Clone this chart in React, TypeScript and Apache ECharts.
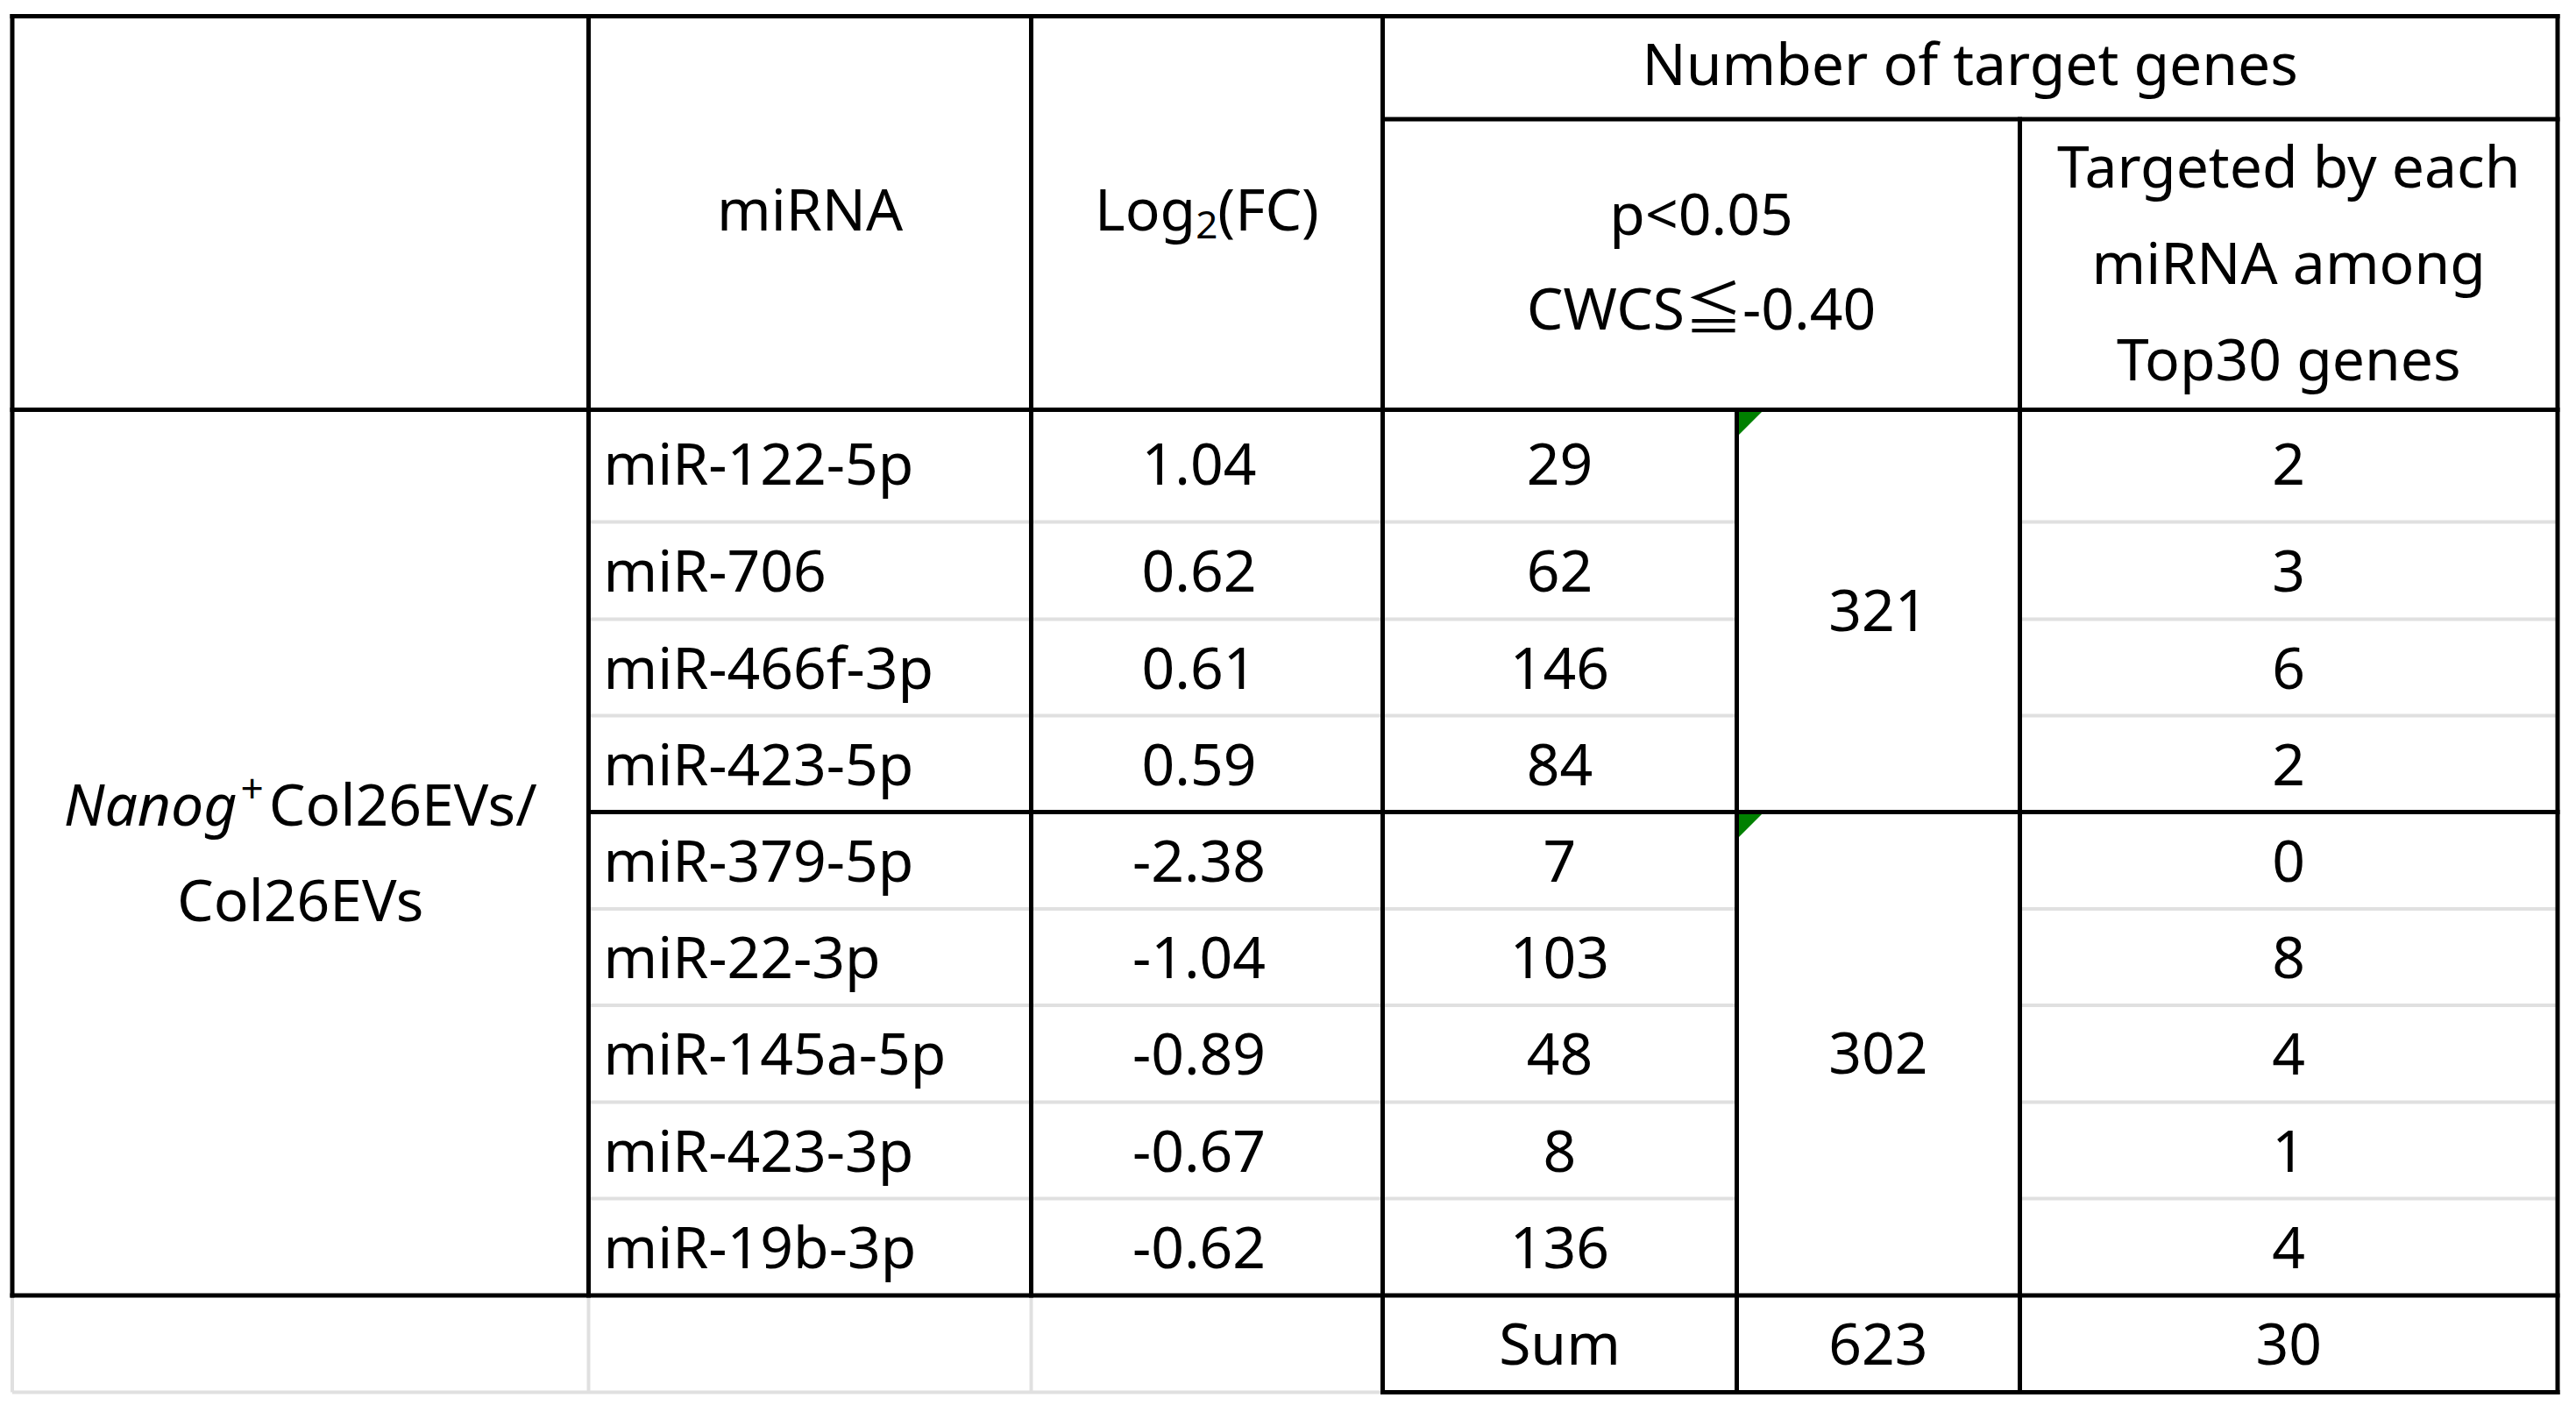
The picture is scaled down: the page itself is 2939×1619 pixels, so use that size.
import React, { useEffect, useRef } from 'react';
import * as echarts from 'echarts';

const miRNAs = ['miR-122-5p', 'miR-706', 'miR-466f-3p', 'miR-423-5p', 'miR-379-5p', 'miR-22-3p', 'miR-145a-5p', 'miR-423-3p', 'miR-19b-3p'];
const log2FC = [1.04, 0.62, 0.61, 0.59, -2.38, -1.04, -0.89, -0.67, -0.62];
const targetGenes = [29, 62, 146, 84, 7, 103, 48, 8, 136];
const groupSizes = [4, 5];
const groupTotals = [321, 302];
const top30Targeted = [2, 3, 6, 2, 0, 8, 4, 1, 4];
const sumLabel = 'Sum';
const sumTargetGenes = 623;
const sumTop30 = 30;
const headerMiRNA = 'miRNA';
const headerLog = '{n|Log}{sub|2}{n|(FC)}';
const headerNumber = 'Number of target genes';
const headerCriteria = 'p<0.05\nCWCS≦-0.40';
const headerTop30 = 'Targeted by each\nmiRNA among\nTop30 genes';
const groupLabel = '{it|Nanog}{sup|+}{n|Col26EVs/}\n{n|Col26EVs}';

// ---------- layout ----------
const W = 2939;
const H = 1619;
const COL_X = [14, 671.5, 1176.5, 1577.5, 1981.5, 2304.5, 2918];
const HEAD_Y = [18.5, 136, 467.5];
const ROW_Y = [467.5, 595.5, 706.5, 816.5, 926.5, 1037, 1147, 1257.5, 1367.5, 1478, 1588.5];
const FONT = '"Noto Sans", "Noto Sans CJK JP", sans-serif';
const FS = 66;
const LOG_COL_X = 1368;
const MIRNA_PAD = 17;
const HEAD_DY = -6;
const FIRST_ROW_DY = -5;
const ROW_DY = -2;

const mid = (a: number, b: number) => (a + b) / 2;

type Cell = { x: number; y: number; text: string; align: string; lineHeight?: number; rich?: any };
type Rule = { x1: number; y1: number; x2: number; y2: number; black: boolean };

function buildCells(): Cell[] {
  const cells: Cell[] = [];
  const hMid = mid(HEAD_Y[0], HEAD_Y[2]) + HEAD_DY;
  cells.push({ x: mid(COL_X[1], COL_X[2]), y: hMid, text: headerMiRNA, align: 'center' });
  cells.push({
    x: mid(COL_X[2], COL_X[3]), y: hMid, text: headerLog, align: 'center',
    rich: {
      n: { fontSize: FS, fontFamily: FONT, fill: '#000' },
      sub: { fontSize: 44, fontFamily: FONT, fill: '#000', padding: [36, 0, 0, 0] },
    },
  });
  cells.push({ x: mid(COL_X[3], COL_X[6]), y: mid(HEAD_Y[0], HEAD_Y[1]) + HEAD_DY, text: headerNumber, align: 'center' });
  cells.push({ x: mid(COL_X[3], COL_X[5]), y: mid(HEAD_Y[1], HEAD_Y[2]) + HEAD_DY, text: headerCriteria, align: 'center', lineHeight: 108 });
  cells.push({ x: mid(COL_X[5], COL_X[6]), y: mid(HEAD_Y[1], HEAD_Y[2]) - 4, text: headerTop30, align: 'center', lineHeight: 110 });
  cells.push({
    x: mid(COL_X[0], COL_X[1]), y: mid(ROW_Y[0], ROW_Y[9]) - 2, text: groupLabel, align: 'center',
    rich: {
      it: { fontSize: FS, fontFamily: FONT, fontStyle: 'italic', fill: '#000', lineHeight: 109 },
      sup: { fontSize: 46, fontFamily: FONT, fill: '#000', padding: [0, 6, 36, 4], lineHeight: 109 },
      n: { fontSize: FS, fontFamily: FONT, fill: '#000', lineHeight: 109 },
    },
  });
  miRNAs.forEach((m, i) => {
    const y = mid(ROW_Y[i], ROW_Y[i + 1]) + (i === 0 ? FIRST_ROW_DY : ROW_DY);
    cells.push({ x: COL_X[1] + MIRNA_PAD, y, text: m, align: 'left' });
    cells.push({ x: LOG_COL_X, y, text: log2FC[i].toFixed(2), align: 'center' });
    cells.push({ x: mid(COL_X[3], COL_X[4]), y, text: String(targetGenes[i]), align: 'center' });
    cells.push({ x: mid(COL_X[5], COL_X[6]), y, text: String(top30Targeted[i]), align: 'center' });
  });
  let start = 0;
  groupSizes.forEach((n, g) => {
    cells.push({ x: mid(COL_X[4], COL_X[5]), y: mid(ROW_Y[start], ROW_Y[start + n]) - 3, text: String(groupTotals[g]), align: 'center' });
    start += n;
  });
  const sy = mid(ROW_Y[9], ROW_Y[10]) + ROW_DY;
  cells.push({ x: mid(COL_X[3], COL_X[4]), y: sy, text: sumLabel, align: 'center' });
  cells.push({ x: mid(COL_X[4], COL_X[5]), y: sy, text: String(sumTargetGenes), align: 'center' });
  cells.push({ x: mid(COL_X[5], COL_X[6]), y: sy, text: String(sumTop30), align: 'center' });
  return cells;
}

function buildRules(): Rule[] {
  const r: Rule[] = [];
  const h = (y: number, x1: number, x2: number, black: boolean) => r.push({ x1, y1: y, x2, y2: y, black });
  const v = (x: number, y1: number, y2: number, black: boolean) => r.push({ x1: x, y1, x2: x, y2, black });
  // light grid lines
  [1, 2, 3, 5, 6, 7, 8].forEach((ri) => {
    h(ROW_Y[ri], COL_X[1], COL_X[4], false);
    h(ROW_Y[ri], COL_X[5], COL_X[6], false);
  });
  h(ROW_Y[10], COL_X[0], COL_X[3], false);
  [0, 1, 2].forEach((ci) => v(COL_X[ci], ROW_Y[9], ROW_Y[10], false));
  // black borders
  h(HEAD_Y[0], COL_X[0], COL_X[6], true);
  h(HEAD_Y[1], COL_X[3], COL_X[6], true);
  h(HEAD_Y[2], COL_X[0], COL_X[6], true);
  h(ROW_Y[4], COL_X[1], COL_X[6], true);
  h(ROW_Y[9], COL_X[0], COL_X[6], true);
  h(ROW_Y[10], COL_X[3], COL_X[6], true);
  v(COL_X[0], HEAD_Y[0], ROW_Y[9], true);
  v(COL_X[1], HEAD_Y[0], ROW_Y[9], true);
  v(COL_X[2], HEAD_Y[0], ROW_Y[9], true);
  v(COL_X[3], HEAD_Y[0], ROW_Y[10], true);
  v(COL_X[4], ROW_Y[0], ROW_Y[10], true);
  v(COL_X[5], HEAD_Y[1], ROW_Y[10], true);
  v(COL_X[6], HEAD_Y[0], ROW_Y[10], true);
  return r;
}

export default function App() {
  const ref = useRef<HTMLDivElement>(null);
  useEffect(() => {
    document.body.style.margin = '0';
    document.body.style.overflow = 'hidden';
    if (!ref.current) return;
    const chart = echarts.init(ref.current, undefined, { renderer: 'svg' });
    const cells = buildCells();
    const rules = buildRules();
    const flags = [
      [COL_X[4], ROW_Y[0]],
      [COL_X[4], ROW_Y[4]],
    ];
    chart.setOption({
      animation: false,
      backgroundColor: '#ffffff',
      grid: { left: 0, right: 0, top: 0, bottom: 0 },
      xAxis: { type: 'value', min: 0, max: W, show: false },
      yAxis: { type: 'value', min: 0, max: H, inverse: true, show: false },
      tooltip: { show: false },
      series: [
        {
          type: 'custom',
          name: 'rules',
          silent: true,
          clip: false,
          data: rules.map((r) => [r.x1, r.y1, r.x2, r.y2, r.black ? 1 : 0]),
          renderItem: (params: any, api: any) => {
            const p1 = api.coord([api.value(0), api.value(1)]);
            const p2 = api.coord([api.value(2), api.value(3)]);
            const black = api.value(4) === 1;
            return {
              type: 'line',
              z2: black ? 10 : 1,
              shape: { x1: p1[0], y1: p1[1], x2: p2[0], y2: p2[1] },
              style: { stroke: black ? '#000000' : '#e0e0e0', lineWidth: black ? 5 : 4, lineCap: black ? 'square' : 'butt' },
            };
          },
        },
        {
          type: 'custom',
          name: 'flags',
          silent: true,
          clip: false,
          z: 3,
          data: flags,
          renderItem: (params: any, api: any) => {
            const p = api.coord([api.value(0), api.value(1)]);
            const x0 = p[0] + 2.5;
            const y0 = p[1] + 2.5;
            return {
              type: 'polygon',
              shape: { points: [[x0, y0], [x0 + 26, y0], [x0, y0 + 26]] },
              style: { fill: '#008000' },
            };
          },
        },
        {
          type: 'custom',
          name: 'cells',
          silent: true,
          clip: false,
          z: 4,
          data: cells.map((c) => [c.x, c.y]),
          renderItem: (params: any, api: any) => {
            const c = cells[params.dataIndex];
            const p = api.coord([api.value(0), api.value(1)]);
            const style: any = {
              text: c.text,
              x: p[0],
              y: p[1],
              fill: '#000000',
              fontSize: FS,
              fontFamily: FONT,
              align: c.align,
              verticalAlign: 'middle',
            };
            if (c.lineHeight) style.lineHeight = c.lineHeight;
            if (c.rich) style.rich = c.rich;
            return { type: 'text', style };
          },
        },
      ],
    });
    return () => chart.dispose();
  }, []);
  return <div ref={ref} style={{ width: W + 'px', height: H + 'px', background: '#fff' }} />;
}
